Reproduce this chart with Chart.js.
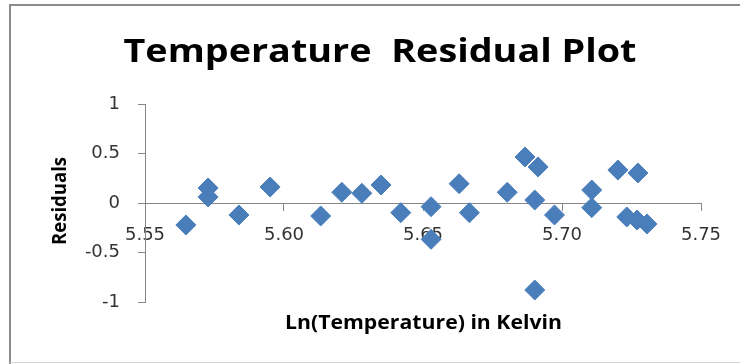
<!DOCTYPE html>
<html>
<head>
<meta charset="utf-8">
<script src="https://cdn.jsdelivr.net/npm/chart.js@4.4.1/dist/chart.umd.min.js"></script>
<style>
  html, body { margin: 0; padding: 0; background: #ffffff; }
  #wrap { width: 740px; height: 364px; position: relative; }
</style>
</head>
<body>
<div id="wrap"><canvas id="chart" width="740" height="364"></canvas></div>
<script>
// Labels
const chartTitle = 'Temperature  Residual Plot';
const xAxisTitle = 'Ln(Temperature) in Kelvin';
const yAxisTitle = 'Residuals';

// Observations: natural log of temperature (K) and the fit residual
const lnTemperature = [
  5.5647, 5.5727, 5.5727, 5.5838, 5.5950, 5.6132, 5.6208, 5.6280, 5.6349,
  5.6420, 5.6529, 5.6529, 5.6630, 5.6667, 5.6803, 5.6867, 5.6914, 5.6902,
  5.6902, 5.6973, 5.7107, 5.7107, 5.7201, 5.7273, 5.7233, 5.7270, 5.7306
];
const residuals = [
  -0.222, 0.152, 0.061, -0.121, 0.162, -0.131, 0.108, 0.098, 0.182,
  -0.098, -0.037, -0.367, 0.195, -0.098, 0.108, 0.465, 0.364, 0.030,
  -0.879, -0.121, 0.131, -0.047, 0.333, 0.303, -0.141, -0.172, -0.212
];

// Axis ticks
const xTickValues = [5.55, 5.60, 5.65, 5.70, 5.75];
const yTickValues = [-1, -0.5, 0, 0.5, 1];

const points = lnTemperature.map((x, i) => ({ x: x, y: residuals[i] }));

const axisGray = '#868686';
const tickFont = { family: 'DejaVu Sans', size: 18 };

// Thin frame around the chart area
const framePlugin = {
  id: 'frame',
  beforeDraw(chart) {
    const ctx = chart.ctx;
    ctx.save();
    ctx.strokeStyle = '#8c8c8c';
    ctx.lineWidth = 2;
    ctx.beginPath();
    ctx.moveTo(10, 364);
    ctx.lineTo(10, 5);
    ctx.lineTo(740, 5);
    ctx.stroke();
    ctx.strokeStyle = '#d4d4d4';
    ctx.lineWidth = 1;
    ctx.beginPath();
    ctx.moveTo(10, 362.5);
    ctx.lineTo(740, 362.5);
    ctx.stroke();
    ctx.restore();
  }
};

// Draws a text centred at (x, y), stretched horizontally to the given width
function drawFitted(ctx, text, font, x, y, width, angle) {
  ctx.save();
  ctx.font = font;
  const w = ctx.measureText(text).width;
  ctx.translate(x, y);
  ctx.rotate(angle);
  ctx.scale(width / w, 1);
  ctx.textAlign = 'center';
  ctx.textBaseline = 'alphabetic';
  ctx.fillStyle = '#000000';
  ctx.fillText(text, 0, 0);
  ctx.restore();
}

const titlesPlugin = {
  id: 'titles',
  afterDraw(chart) {
    const ctx = chart.ctx;
    drawFitted(ctx, chartTitle, 'bold 32px "Open Sans"', 380, 62, 513, 0);
    drawFitted(ctx, xAxisTitle, 'bold 19px "Open Sans"', 423.5, 329, 277, 0);
    drawFitted(ctx, yAxisTitle, 'bold 19px "Open Sans"', 66, 201, 88, -Math.PI / 2);
  }
};

new Chart(document.getElementById('chart'), {
  type: 'scatter',
  data: {
    datasets: [{
      data: points,
      pointStyle: 'rectRot',
      pointRadius: 10,
      pointHoverRadius: 10,
      backgroundColor: '#4a7ebb',
      borderColor: '#4a7ebb',
      borderWidth: 1
    }]
  },
  options: {
    responsive: false,
    animation: false,
    devicePixelRatio: 1,
    layout: { padding: { top: 104, bottom: 62, left: 0, right: 39 } },
    plugins: {
      legend: { display: false },
      tooltip: { enabled: false },
      title: { display: false }
    },
    scales: {
      x: {
        type: 'linear',
        position: { y: 0 },
        min: 5.55,
        max: 5.75,
        afterBuildTicks: (s) => { s.ticks = xTickValues.map(v => ({ value: v })); },
        ticks: {
          callback: (v) => Number(v).toFixed(2),
          font: tickFont,
          color: '#333333',
          padding: 15,
          maxRotation: 0,
          autoSkip: false
        },
        grid: { drawOnChartArea: false, drawTicks: true, tickLength: 7, color: axisGray, tickColor: axisGray },
        border: { display: true, color: axisGray, width: 1 }
      },
      y: {
        type: 'linear',
        position: 'left',
        min: -1,
        max: 1,
        afterBuildTicks: (s) => { s.ticks = yTickValues.map(v => ({ value: v })); },
        afterFit: (s) => { s.width = 145; },
        ticks: {
          callback: (v) => String(v),
          font: tickFont,
          color: '#333333',
          padding: 18
        },
        grid: { drawOnChartArea: false, drawTicks: true, tickLength: 7, color: axisGray, tickColor: axisGray },
        border: { display: true, color: axisGray, width: 1 }
      }
    }
  },
  plugins: [framePlugin, titlesPlugin]
});
</script>
</body>
</html>
